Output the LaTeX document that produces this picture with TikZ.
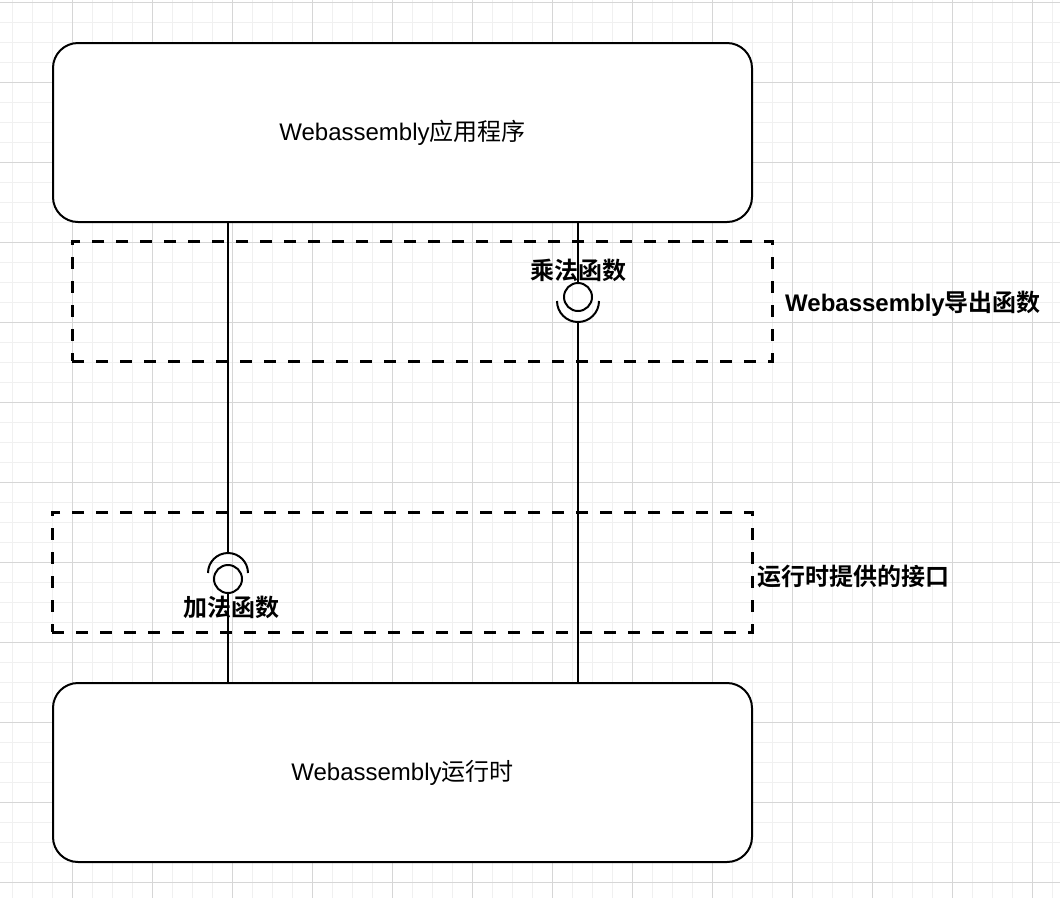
\documentclass[tikz,border=0pt]{standalone}
\usepackage{fontspec}
\setmainfont{Liberation Sans}
\newfontfamily\cjk{Noto Sans CJK SC}[BoldFont={Noto Sans CJK SC Bold}]
\newcommand{\lat}{\rmfamily}
\begin{document}
\begin{tikzpicture}[x=1pt,y=-1pt,
  gridminor/.style={draw=black!6,line width=1pt},
  gridmajor/.style={draw=black!16,line width=1pt},
  block/.style={draw=black,line width=2pt,rounded corners=25pt,fill=white,
    minimum width=699pt,minimum height=179pt,font=\fontsize{24}{28}\selectfont},
  zone/.style={draw=black,line width=3pt,dash pattern=on 12pt off 12pt,
    minimum width=700pt,minimum height=120pt},
  zonelabel/.style={font=\fontsize{24}{28}\selectfont\bfseries,anchor=west,inner sep=0pt},
  funclabel/.style={font=\fontsize{24}{28}\selectfont\bfseries,inner sep=0pt},
  ball/.style={circle,draw=black,line width=2pt,minimum size=28pt,inner sep=0pt},
  wire/.style={draw=black,line width=1.6pt},
  cup/.style={draw=black,line width=2pt}]
  % canvas and grid
  \useasboundingbox (0,0) rectangle (1060,898);
  \fill[white] (0,0) rectangle (1060,898);
  \foreach \x in {12,32,...,1060} \draw[gridminor] (\x,0) -- (\x,898);
  \foreach \y in {2,22,...,898} \draw[gridminor] (0,\y) -- (1060,\y);
  \foreach \x in {72,152,...,1060} \draw[gridmajor] (\x,0) -- (\x,898);
  \foreach \y in {2,82,...,898} \draw[gridmajor] (0,\y) -- (1060,\y);

  % dashed interface zones
  \node[zone] (expzone) at (422,301) {};
  \node[zone] (rtzone) at (402,572) {};
  \node[zonelabel] (explabel) at (785,304) {\lat Webassembly\cjk 导出函数};
  \node[zonelabel] (rtlabel) at (757,576) {\cjk 运行时提供的接口};

  % application and runtime blocks
  \node[block] (app) at (402.5,132.5) {\lat Webassembly\cjk 应用程序};
  \node[block] (rt) at (402.5,772.5) {\lat Webassembly\cjk 运行时};

  % multiplication: provided by the module (ball), required by the app (cup)
  \node[ball] (mulball) at (578,297) {};
  \coordinate (mulcup) at (578,322);
  \draw[cup] (599,301) arc[start angle=0,end angle=180,radius=21];
  \draw[wire] (app.south -| mulball) -- (mulball.north);
  \draw[wire] (mulcup) -- (mulcup |- rt.north);
  \node[funclabel] (mullabel) at (578,270) {\cjk 乘法函数};

  % addition: provided by the runtime (ball), required by the app (cup)
  \node[ball] (addball) at (228,579) {};
  \coordinate (addcup) at (228,553);
  \draw[cup] (208,573) arc[start angle=180,end angle=360,radius=20];
  \draw[wire] (app.south -| addcup) -- (addcup);
  \draw[wire] (addball.south) -- (addball.south |- rt.north);
  \node[funclabel] (addlabel) at (231,607) {\cjk 加法函数};
\end{tikzpicture}
\end{document}
